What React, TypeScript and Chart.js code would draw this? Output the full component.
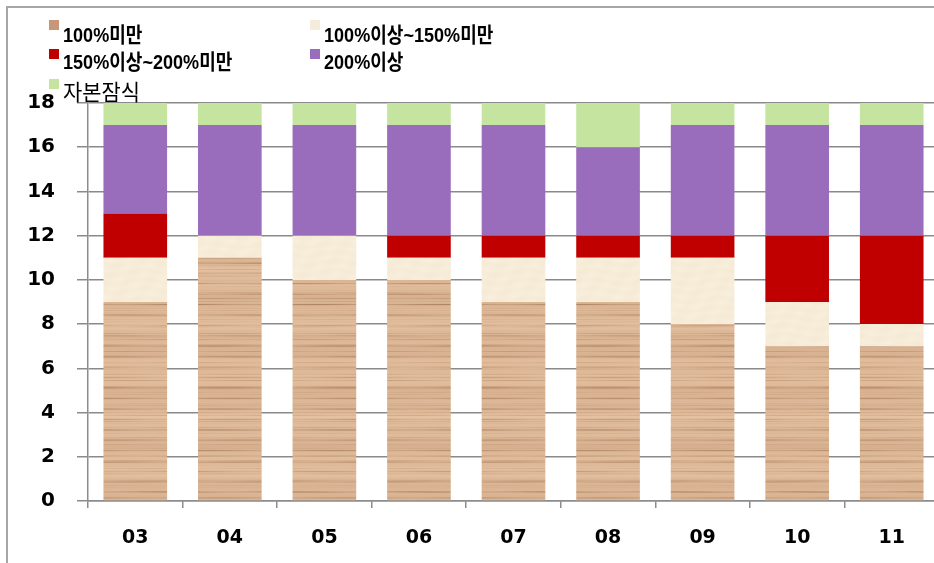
import React, { useEffect, useRef } from "react";
import { Chart, registerables } from "chart.js";

Chart.register(...registerables);

// Years (two-digit) along the x axis
const years = ["03", "04", "05", "06", "07", "08", "09", "10", "11"];

// Number of companies per ratio band, stacked bottom to top
const under100 = [9, 11, 10, 10, 9, 9, 8, 7, 7];
const from100to150 = [2, 1, 2, 1, 2, 2, 3, 2, 1];
const from150to200 = [2, 0, 0, 1, 1, 1, 1, 3, 4];
const over200 = [4, 5, 5, 5, 5, 4, 5, 5, 5];
const capitalImpaired = [1, 1, 1, 1, 1, 2, 1, 1, 1];

const seriesLabels = ["100%미만", "100%이상~150%미만", "150%이상~200%미만", "200%이상", "자본잠식"];
const yTicks = [0, 2, 4, 6, 8, 10, 12, 14, 16, 18];

const TICK_FONT = '"DejaVu Sans", "Noto Sans CJK KR", sans-serif';
const LEGEND_FONT = '"Liberation Sans", "Noto Sans CJK KR", sans-serif';

// Horizontal wood-grain fill for the lowest band
function makeWoodPattern(ctx: CanvasRenderingContext2D): CanvasPattern | string {
  const W = 128, H = 240;
  const c = document.createElement("canvas");
  c.width = W; c.height = H;
  const g = c.getContext("2d");
  if (!g) return "#e0b490";
  const img = g.createImageData(W, H);
  const TAU = Math.PI * 2;
  for (let y = 0; y < H; y++) {
    const t = (y / H) * TAU;
    // broad light/dark banding
    const band = 0.5 * Math.sin(5 * t) + 0.3 * Math.sin(13 * t + 1) + 0.2 * Math.sin(29 * t + 2);
    // thin grain streaks
    const streak =
      Math.pow(Math.max(0, Math.sin(23 * t + 0.7)), 8) +
      0.7 * Math.pow(Math.max(0, Math.sin(41 * t + 2.1)), 12) +
      0.5 * Math.pow(Math.max(0, Math.sin(67 * t + 1.4)), 14);
    const phase = Math.sin(11 * t) * 3;
    for (let x = 0; x < W; x++) {
      const u = (x / W) * TAU;
      const fade = 0.72 + 0.28 * Math.sin(u + phase);
      let m = 0.3 + 0.13 * band + 0.42 * streak * fade;
      m = Math.max(0, Math.min(1, m));
      const i = (y * W + x) * 4;
      img.data[i] = 240 + (178 - 240) * m;
      img.data[i + 1] = 206 + (134 - 206) * m;
      img.data[i + 2] = 174 + (100 - 174) * m;
      img.data[i + 3] = 255;
    }
  }
  g.putImageData(img, 0, 0);
  return ctx.createPattern(c, "repeat") || "#e0b490";
}

// Faintly mottled cream fill for the second band
function makeCreamPattern(ctx: CanvasRenderingContext2D): CanvasPattern | string {
  const W = 64, H = 64;
  const c = document.createElement("canvas");
  c.width = W; c.height = H;
  const g = c.getContext("2d");
  if (!g) return "#f5ebd9";
  const img = g.createImageData(W, H);
  const TAU = Math.PI * 2;
  for (let y = 0; y < H; y++) {
    for (let x = 0; x < W; x++) {
      const n = 0.5 * Math.sin((y / H) * TAU * 7 + Math.sin((x / W) * TAU) * 1.5) + 0.5 * Math.sin((x / W) * TAU * 3 + (y / H) * TAU * 2);
      const i = (y * W + x) * 4;
      img.data[i] = 246 + n * 1.5;
      img.data[i + 1] = 236 + n * 2.5;
      img.data[i + 2] = 216 + n * 4;
      img.data[i + 3] = 255;
    }
  }
  g.putImageData(img, 0, 0);
  return ctx.createPattern(c, "repeat") || "#f5ebd9";
}

const swatchColors = ["#c8977a", "#f6ecdc", "#c00000", "#9a6cbc", "#c4e4a0"];

// Two-column legend drawn above the plot, plus the left/top frame lines
const legendPlugin = {
  id: "gridLegend",
  beforeDraw(chart: any) {
    const ctx = chart.ctx;
    ctx.save();
    ctx.fillStyle = "#ffffff";
    ctx.fillRect(0, 0, chart.width, chart.height);
    ctx.strokeStyle = "#a6a6a6";
    ctx.lineWidth = 2;
    ctx.beginPath();
    ctx.moveTo(7, chart.height);
    ctx.lineTo(7, 7);
    ctx.lineTo(chart.width, 7);
    ctx.stroke();
    ctx.restore();
  },
  afterDraw(chart: any) {
    const ctx = chart.ctx;
    const cols = [49, 310];
    const rows = [20, 49, 79];
    ctx.save();
    chart.data.datasets.forEach((ds: any, idx: number) => {
      const col = idx % 2;
      const row = Math.floor(idx / 2);
      const bx = cols[col];
      const by = rows[row];
      ctx.fillStyle = swatchColors[idx];
      ctx.fillRect(bx, by, 10, 10);
      const last = idx === 4;
      ctx.font = last ? `normal 22px ${LEGEND_FONT}` : `bold 21px ${LEGEND_FONT}`;
      ctx.fillStyle = "#000000";
      ctx.textBaseline = "middle";
      ctx.textAlign = "left";
      ctx.save();
      ctx.translate(bx + 14, by + (row === 0 ? 16 : last ? 15 : 14));
      ctx.scale(last ? 0.95 : 0.86, 1);
      ctx.fillText(ds.label, 0, 0);
      ctx.restore();
    });
    ctx.restore();
  },
};

export default function App() {
  const canvasRef = useRef<HTMLCanvasElement | null>(null);

  useEffect(() => {
    const canvas = canvasRef.current;
    if (!canvas) return;
    const ctx = canvas.getContext("2d");
    if (!ctx) return;
    const wood = makeWoodPattern(ctx);
    const cream = makeCreamPattern(ctx);
    const fills = [wood, cream, "#c00000", "#9a6cbc", "#c4e4a0"];
    const values = [under100, from100to150, from150to200, over200, capitalImpaired];

    const chart = new Chart(canvas, {
      type: "bar",
      data: {
        labels: years,
        datasets: values.map((v, i) => ({
          label: seriesLabels[i],
          data: v,
          backgroundColor: fills[i] as any,
          borderWidth: 0,
          categoryPercentage: 1,
          barPercentage: 0.673,
        })),
      },
      options: {
        animation: false,
        responsive: true,
        maintainAspectRatio: false,
        layout: { padding: { left: 8, top: 103, right: 6, bottom: 0 } },
        plugins: { legend: { display: false }, tooltip: { enabled: false } },
        scales: {
          x: {
            stacked: true,
            z: 1,
            grid: {
              drawOnChartArea: false,
              drawTicks: true,
              tickLength: 7,
              color: "#8c8c8c",
              lineWidth: 1.5,
              offset: true,
            },
            border: { color: "#8c8c8c", width: 1.5 },
            ticks: {
              color: "#000000",
              font: { family: TICK_FONT, size: 19, weight: "bold" },
              padding: 19,
              maxRotation: 0,
            },
            afterFit(scale: any) {
              scale.height = 62;
            },
          },
          y: {
            stacked: true,
            z: 1,
            min: 0,
            max: 18,
            afterBuildTicks(scale: any) {
              scale.ticks = yTicks.map((v) => ({ value: v }));
            },
            grid: {
              color: "rgba(60,60,60,0.6)",
              lineWidth: 1.5,
              tickLength: 11,
            },
            border: { color: "#8c8c8c", width: 1.5 },
            ticks: {
              color: "#000000",
              font: { family: TICK_FONT, size: 20, weight: "bold" },
              padding: 22,
            },
            afterFit(scale: any) {
              scale.width = 80;
            },
          },
        },
      },
      plugins: [legendPlugin],
    });
    return () => chart.destroy();
  }, []);

  return (
    <div style={{ position: "absolute", left: 0, top: 0, width: 934, height: 563, overflow: "hidden", background: "#fff" }}>
      <div style={{ position: "relative", width: 945, height: 563 }}>
        <canvas ref={canvasRef} />
      </div>
    </div>
  );
}
